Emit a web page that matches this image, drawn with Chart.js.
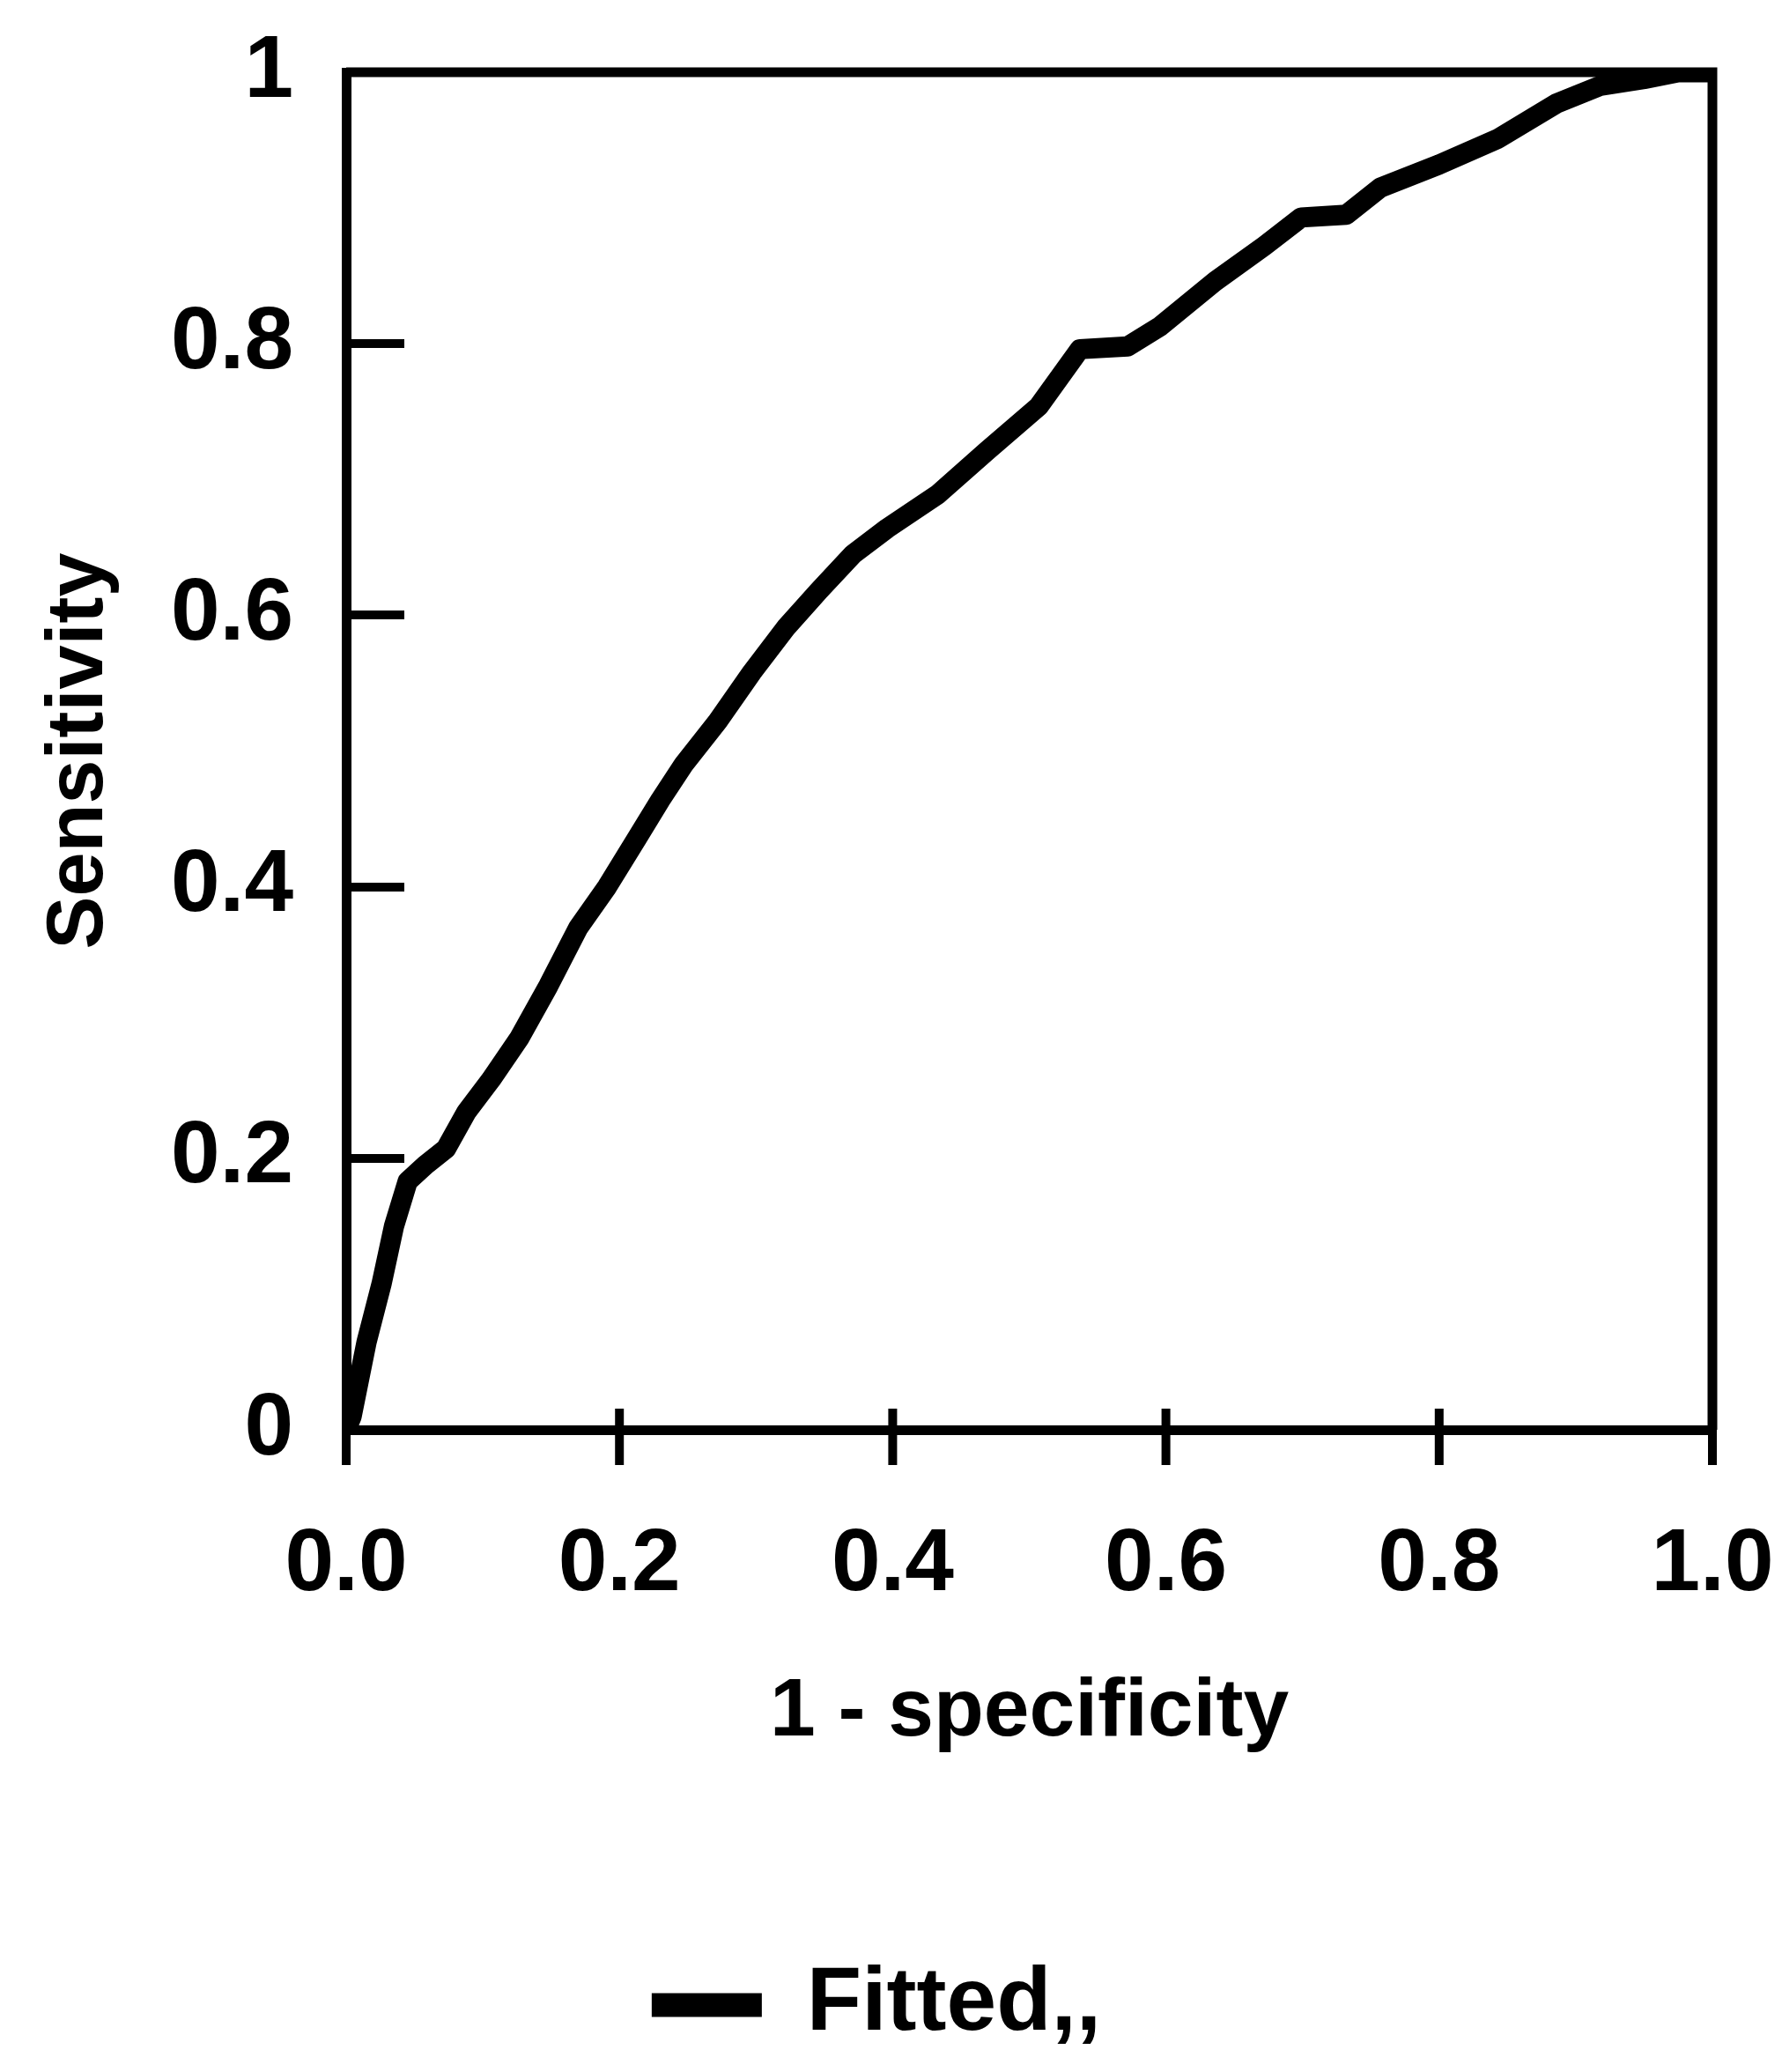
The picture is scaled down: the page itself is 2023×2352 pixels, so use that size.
<!DOCTYPE html>
<html lang="en">
<head>
<meta charset="UTF-8">
<title>ROC - Fitted</title>
<style>
  html, body { margin: 0; padding: 0; background: #fff; }
  #wrap { width: 2023px; height: 2352px; }
</style>
</head>
<body>
<div id="wrap"><canvas id="roc"></canvas></div>

<script src="https://cdn.jsdelivr.net/npm/chart.js"></script>
<script>
// fitted ROC curve: 1 - specificity (x) against sensitivity (y)
const fpr = [0, 0.004, 0.015, 0.026, 0.035, 0.045, 0.058, 0.073, 0.088, 0.106,
             0.127, 0.148, 0.17, 0.191, 0.213, 0.23, 0.247, 0.272, 0.297, 0.322,
             0.346, 0.371, 0.396, 0.433, 0.469, 0.507, 0.537, 0.572, 0.596, 0.636,
             0.672, 0.699, 0.732, 0.757, 0.8, 0.843, 0.886, 0.918, 0.95, 0.975, 1.0];
const tpr = [0, 0.01, 0.065, 0.108, 0.15, 0.183, 0.195, 0.207, 0.234, 0.258,
             0.289, 0.327, 0.37, 0.4, 0.436, 0.464, 0.49, 0.522, 0.558, 0.591,
             0.618, 0.645, 0.664, 0.689, 0.721, 0.754, 0.796, 0.798, 0.813, 0.846,
             0.872, 0.893, 0.895, 0.915, 0.932, 0.951, 0.977, 0.99, 0.995, 1.0, 1.0];

const xTickLabels = ['0.0', '0.2', '0.4', '0.6', '0.8', '1.0'];
const yTickLabels = ['0', '0.2', '0.4', '0.6', '0.8', '1'];

const seriesName = 'Fitted,,';
const xTitle = '1 - specificity';
const yTitle = 'Sensitivity';

Chart.defaults.font.family = '"Liberation Sans", Arial, sans-serif';
Chart.defaults.font.weight = 'bold';
Chart.defaults.color = '#000';

// x ticks cross the bottom axis (a bit inside, more outside)
const xTickMarks = {
    id: 'xTickMarks',
    afterDraw(chart) {
        const { ctx, chartArea, scales } = chart;
        const x = scales.x;
        ctx.save();
        ctx.strokeStyle = '#000';
        ctx.lineWidth = 10;
        x.ticks.forEach(t => {
            const px = x.getPixelForValue(t.value);
            ctx.beginPath();
            ctx.moveTo(px, chartArea.bottom - 24);
            ctx.lineTo(px, chartArea.bottom + 40);
            ctx.stroke();
        });
        ctx.restore();
    }
};

// top and right edges of the box
const boxEdges = {
    id: 'boxEdges',
    beforeDatasetsDraw(chart) {
        const { ctx, chartArea } = chart;
        ctx.save();
        ctx.strokeStyle = '#000';
        ctx.lineWidth = 11;
        ctx.beginPath();
        ctx.moveTo(chartArea.left, chartArea.top);
        ctx.lineTo(chartArea.right, chartArea.top);
        ctx.lineTo(chartArea.right, chartArea.bottom);
        ctx.stroke();
        ctx.restore();
    }
};

const axisBorder = { display: true, width: 11, color: '#000' };

new Chart(document.getElementById('roc'), {
    type: 'line',
    data: {
        datasets: [{
            label: seriesName,
            data: fpr.map((x, i) => ({ x: x, y: tpr[i] })),
            borderColor: '#000',
            backgroundColor: '#000',
            borderWidth: 23,
            borderJoinStyle: 'round',
            borderCapStyle: 'round',
            pointRadius: 0,
            tension: 0
        }]
    },
    options: {
        responsive: true,
        maintainAspectRatio: false,
        animation: false,
        layout: { padding: { top: 82, right: 79, bottom: 15, left: 46 } },
        plugins: {
            tooltip: { enabled: false },
            legend: {
                position: 'bottom',
                labels: {
                    font: { size: 102 },
                    boxWidth: 125,
                    boxHeight: 27,
                    padding: 42,
                    generateLabels: chart => Chart.defaults.plugins.legend.labels.generateLabels(chart)
                        .map(l => ({ ...l, lineWidth: 0, fillStyle: '#000' }))
                }
            }
        },
        scales: {
            x: {
                type: 'linear', position: 'bottom', min: 0, max: 1,
                ticks: {
                    stepSize: 0.2, padding: 86, maxRotation: 0, autoSkip: false,
                    font: { size: 100 },
                    callback: (v, i) => xTickLabels[i]
                },
                grid: { display: false },
                border: axisBorder,
                title: { display: true, text: xTitle, font: { size: 93 }, padding: { top: 0, bottom: 183 } },
                // fixed height; label overhang must not push the plot area in
                afterFit: s => { s.height = 560; s.paddingLeft = 0; s.paddingRight = 0; }
            },
            y: {
                type: 'linear', position: 'left', min: 0, max: 1,
                ticks: {
                    stepSize: 0.2, padding: 126,
                    font: { size: 100 },
                    callback: (v, i) => yTickLabels[i]
                },
                grid: { drawOnChartArea: false, tickLength: -66, lineWidth: 10, color: '#000' },
                border: axisBorder,
                title: { display: true, text: yTitle, font: { size: 90, lineHeight: 1 }, padding: { top: 0, bottom: 0 } },
                afterFit: s => { s.width = 347; s.paddingTop = 0; s.paddingBottom = 0; }
            }
        }
    },
    plugins: [boxEdges, xTickMarks]
});
</script>
</body>
</html>
